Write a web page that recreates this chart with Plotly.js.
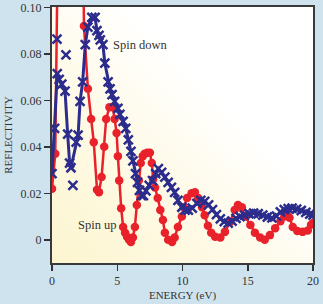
<!DOCTYPE html>
<html>
<head>
<meta charset="utf-8">
<script src="https://cdn.plot.ly/plotly-3.0.1.min.js"></script>
<style>
html,body{margin:0;padding:0;background:#cfe3ee;}
#chart{width:323px;height:304px;}
</style>
</head>
<body>
<div id="chart"></div>
<script>
// Spin up (red circles)
const spinUpEnergy = [0, 0.25, 0.45, 1.0, 1.8, 2.35, 2.45, 2.75, 3.0, 3.2, 3.45, 3.6, 3.8, 4.0, 4.15, 4.4, 4.65, 4.8, 4.95, 5.05, 5.15, 5.3, 5.45, 5.6, 5.75, 5.9, 6.05, 6.2, 6.35, 6.5, 6.65, 6.8, 6.95, 7.1, 7.3, 7.5, 7.65, 7.75, 7.9, 8.1, 8.3, 8.5, 8.65, 8.9, 9.2, 9.4, 9.65, 9.95, 10.1, 10.35, 10.7, 10.95, 11.2, 11.5, 11.7, 11.95, 12.2, 12.5, 12.9, 13.25, 13.65, 14.0, 14.25, 14.55, 14.8, 15.2, 15.55, 15.95, 16.3, 16.7, 17.1, 17.5, 17.8, 18.0, 18.2, 18.45, 18.8, 19.2, 19.6, 19.85, 20.0];
const spinUpRefl = [0.022, 0.037, 0.13, 0.25, 0.22, 0.14, 0.092, 0.065, 0.052, 0.042, 0.0215, 0.0205, 0.027, 0.040, 0.052, 0.057, 0.057, 0.052, 0.046, 0.036, 0.0255, 0.0136, 0.0055, 0.003, 0.0013, 0.000, -0.001, 0.001, 0.0055, 0.015, 0.0255, 0.033, 0.036, 0.037, 0.0375, 0.0375, 0.033, 0.026, 0.0225, 0.018, 0.0128, 0.0085, 0.003, 0.000, -0.001, 0.001, 0.0055, 0.010, 0.014, 0.018, 0.020, 0.0205, 0.018, 0.014, 0.0106, 0.006, 0.003, 0.0013, 0.001, 0.0034, 0.0077, 0.0128, 0.015, 0.014, 0.010, 0.0064, 0.003, 0.001, 0.000, 0.002, 0.005, 0.008, 0.010, 0.0106, 0.0095, 0.0055, 0.0038, 0.0034, 0.004, 0.0065, 0.0072];

// Spin down (blue crosses) along the curve
const spinDownEnergy = [0, 0.2, 0.4, 0.55, 0.75, 1.0, 1.2, 1.35, 1.45, 1.85, 2.0, 2.15, 2.35, 2.55, 2.75, 3.05, 3.3, 3.45, 3.6, 3.7, 3.9, 4.05, 4.3, 4.45, 4.6, 4.8, 5.05, 5.2, 5.45, 5.65, 5.85, 6.05, 6.2, 6.4, 6.55, 6.7, 6.85, 7.0, 7.2, 7.45, 7.7, 7.95, 8.15, 8.4, 8.65, 8.9, 9.15, 9.4, 9.65, 9.95, 10.2, 10.45, 10.75, 11.1, 11.4, 11.7, 12.0, 12.3, 12.6, 12.9, 13.2, 13.5, 13.8, 14.1, 14.4, 14.75, 15.1, 15.45, 15.8, 16.15, 16.5, 16.85, 17.2, 17.5, 17.8, 18.1, 18.4, 18.75, 19.1, 19.45, 19.75, 20.0];
const spinDownRefl = [0.0285, 0.048, 0.0715, 0.069, 0.067, 0.064, 0.0455, 0.033, 0.031, 0.042, 0.045, 0.0596, 0.068, 0.084, 0.0915, 0.0957, 0.0957, 0.090, 0.088, 0.086, 0.084, 0.076, 0.068, 0.065, 0.0625, 0.0596, 0.0566, 0.054, 0.051, 0.048, 0.043, 0.038, 0.034, 0.0285, 0.0247, 0.0213, 0.019, 0.019, 0.021, 0.0234, 0.0255, 0.0285, 0.0306, 0.029, 0.027, 0.0247, 0.0226, 0.0204, 0.017, 0.014, 0.0128, 0.0128, 0.0136, 0.0157, 0.017, 0.0165, 0.015, 0.013, 0.0108, 0.009, 0.0078, 0.0072, 0.0080, 0.0092, 0.0100, 0.0106, 0.0112, 0.0115, 0.0112, 0.0106, 0.0098, 0.0094, 0.0102, 0.0120, 0.0130, 0.0134, 0.0136, 0.0132, 0.0126, 0.0118, 0.0110, 0.0106];

// Spin down scattered crosses off the curve
const spinDownExtraEnergy = [0.38, 1.07, 1.6];
const spinDownExtraRefl = [0.0864, 0.0796, 0.0234];

const xTickVals = [0, 5, 10, 15, 20];
const xTickText = ['0', '5', '10', '15', '20'];
const yTickVals = [0, 0.02, 0.04, 0.06, 0.08, 0.10];
const yTickText = ['0', '0.02', '0.04', '0.06', '0.08', '0.10'];

const RED = '#e8212b';
const BLUE = '#2b2c8c';
const FONT = 'Liberation Serif, serif';

const traces = [
  {
    x: spinUpEnergy, y: spinUpRefl, type: 'scatter', mode: 'lines+markers',
    line: {color: RED, width: 2.5},
    marker: {color: RED, size: 8.5, symbol: 'circle'},
    cliponaxis: true, showlegend: false, hoverinfo: 'skip'
  },
  {
    x: spinDownEnergy, y: spinDownRefl, type: 'scatter', mode: 'lines+markers',
    line: {color: BLUE, width: 3},
    marker: {color: BLUE, size: 9, symbol: 'x-thin', line: {color: BLUE, width: 2.5}},
    cliponaxis: true, showlegend: false, hoverinfo: 'skip'
  },
  {
    x: spinDownExtraEnergy, y: spinDownExtraRefl, type: 'scatter', mode: 'markers',
    marker: {color: BLUE, size: 9, symbol: 'x-thin', line: {color: BLUE, width: 2.5}},
    cliponaxis: true, showlegend: false, hoverinfo: 'skip'
  }
];

const grad = '<svg xmlns="http://www.w3.org/2000/svg" width="100" height="100" preserveAspectRatio="none">' +
  '<defs><linearGradient id="g" x1="0" y1="1" x2="1" y2="0">' +
  '<stop offset="0" stop-color="#fdf5cf"/><stop offset="0.35" stop-color="#fefae6"/><stop offset="0.65" stop-color="#ffffff"/></linearGradient></defs>' +
  '<rect width="100" height="100" fill="url(#g)"/></svg>';

const layout = {
  width: 323, height: 304,
  margin: {l: 52, r: 10, t: 7, b: 41},
  paper_bgcolor: '#cfe3ee',
  plot_bgcolor: 'rgba(0,0,0,0)',
  font: {family: FONT, size: 11, color: '#333333'},
  images: [{
    source: 'data:image/svg+xml;charset=utf-8,' + encodeURIComponent(grad),
    xref: 'paper', yref: 'paper', x: 0, y: 1, sizex: 1, sizey: 1,
    xanchor: 'left', yanchor: 'top', sizing: 'stretch', layer: 'below'
  }],
  xaxis: {
    range: [0, 20], tickvals: xTickVals, ticktext: xTickText,
    ticks: 'outside', ticklen: 6, tickwidth: 1.5, tickcolor: '#333',
    showline: true, linecolor: '#3a3a3a', linewidth: 2, mirror: true,
    showgrid: false, zeroline: false,
    tickfont: {family: FONT, size: 12, color: '#333'},
    title: {text: 'ENERGY (eV)', font: {family: FONT, size: 11, color: '#333'}, standoff: 4}
  },
  yaxis: {
    range: [-0.01, 0.1002], tickvals: yTickVals, ticktext: yTickText,
    ticks: 'outside', ticklen: 6, tickwidth: 1.5, tickcolor: '#333',
    ticklabeloverflow: 'allow',
    showline: true, linecolor: '#3a3a3a', linewidth: 2, mirror: true,
    showgrid: false, zeroline: false,
    tickfont: {family: FONT, size: 12, color: '#333'},
    title: {text: 'REFLECTIVITY', font: {family: FONT, size: 11, color: '#333'}, standoff: 6}
  },
  annotations: [
    {x: 6.8, y: 0.0838, xref: 'x', yref: 'y', text: 'Spin down', showarrow: false,
     font: {family: FONT, size: 12.5, color: '#333'}},
    {x: 3.5, y: 0.0064, xref: 'x', yref: 'y', text: 'Spin up', showarrow: false,
     font: {family: FONT, size: 12.5, color: '#333'}}
  ],
  showlegend: false
};

Plotly.newPlot('chart', traces, layout, {displayModeBar: false, staticPlot: true});
</script>
</body>
</html>
